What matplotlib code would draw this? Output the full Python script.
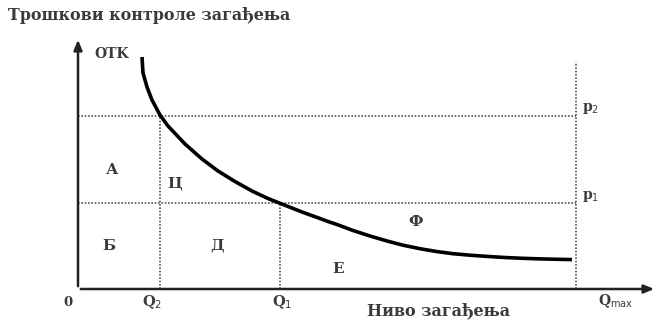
import matplotlib
matplotlib.use("Agg")
import matplotlib.pyplot as plt

# Key levels (data units: horizontal = pollution level, vertical = control cost)
Q2 = 82
Q1 = 202
Qmax = 498
p2 = 173
p1 = 86

# OTK (total control cost) curve
otk_x = [64, 65, 69, 74, 82, 90, 107, 124, 140, 157, 174, 190, 200, 224, 242, 250,
         259, 275, 292, 309, 325, 342, 359, 375, 392, 409, 425, 442, 459, 475, 494]
otk_y = [232, 216, 202, 189, 174, 163, 145, 130, 118, 107.5, 98, 90.5, 86.5, 77, 70.5, 67.5,
         64.5, 58.5, 53, 48, 43.8, 40.3, 37.4, 35.3, 33.8, 32.6, 31.6, 30.8, 30.2, 29.8, 29.4]

# Area labels
area_labels = ["А", "Ц", "Б", "Д", "Е", "Ф"]
area_x = [34, 97, 31, 139, 260, 338]
area_y = [119, 106, 43, 43, 20, 67]

title = "Трошкови контроле загађења"
xlabel = "Ниво загађења"

fig = plt.figure(figsize=(6.59, 3.2), dpi=100)
ax = fig.add_axes([0, 0, 1, 1])
ax.set_xlim(-78, 581)
ax.set_ylim(-31, 289)
ax.axis("off")

txt = "#3a3a3a"
font = "DejaVu Serif"
fw = "bold"

# axes with arrows
ax.annotate("", xy=(0, 252), xytext=(0, 0),
            arrowprops=dict(arrowstyle="-|>,head_width=0.25,head_length=0.6", lw=1.8, color="#222222"))
ax.annotate("", xy=(579, 0), xytext=(0, 0),
            arrowprops=dict(arrowstyle="-|>,head_width=0.25,head_length=0.6", lw=1.8, color="#222222"))

dot = dict(color="#555555", lw=1.2, linestyle=(0, (1, 1)))
ax.plot([0, Qmax], [p2, p2], **dot)
ax.plot([0, Qmax], [p1, p1], **dot)
ax.plot([Q2, Q2], [0, p2], **dot)
ax.plot([Q1, Q1], [0, p1], **dot)
ax.plot([Qmax, Qmax], [0, 227], **dot)

ax.plot(otk_x, otk_y, color="black", lw=2.6, solid_capstyle="butt", solid_joinstyle="round")

ax.text(-70, 274, title, fontsize=11.5, family=font, weight=fw, color=txt, va="center", ha="left")
ax.text(16, 235, "OTK", fontsize=10, family=font, weight=fw, color=txt, va="center", ha="left")
ax.text(Qmax + 6, p2 + 8, "p$_2$", fontsize=10, family=font, weight=fw, color=txt, va="center", ha="left")
ax.text(Qmax + 6, p1 + 7, "p$_1$", fontsize=10, family=font, weight=fw, color=txt, va="center", ha="left")

for lab, x, y in zip(area_labels, area_x, area_y):
    ax.text(x, y, lab, fontsize=11, family=font, weight=fw, color=txt, va="center", ha="center")

ax.text(-10, -13, "0", fontsize=9.5, family=font, weight=fw, color=txt, va="center", ha="center")
ax.text(Q2 - 8, -13, "Q$_2$", fontsize=10.5, family=font, weight=fw, color=txt, va="center", ha="center")
ax.text(Q1 + 2, -13, "Q$_1$", fontsize=10.5, family=font, weight=fw, color=txt, va="center", ha="center")
ax.text(Qmax + 22, -12, "Q$_{\\mathrm{max}}$", fontsize=10, family=font, weight=fw, color=txt, va="center", ha="left")
ax.text(361, -23, xlabel, fontsize=11.5, family=font, weight=fw, color=txt, va="center", ha="center")

fig.savefig("out.png", dpi=100)
